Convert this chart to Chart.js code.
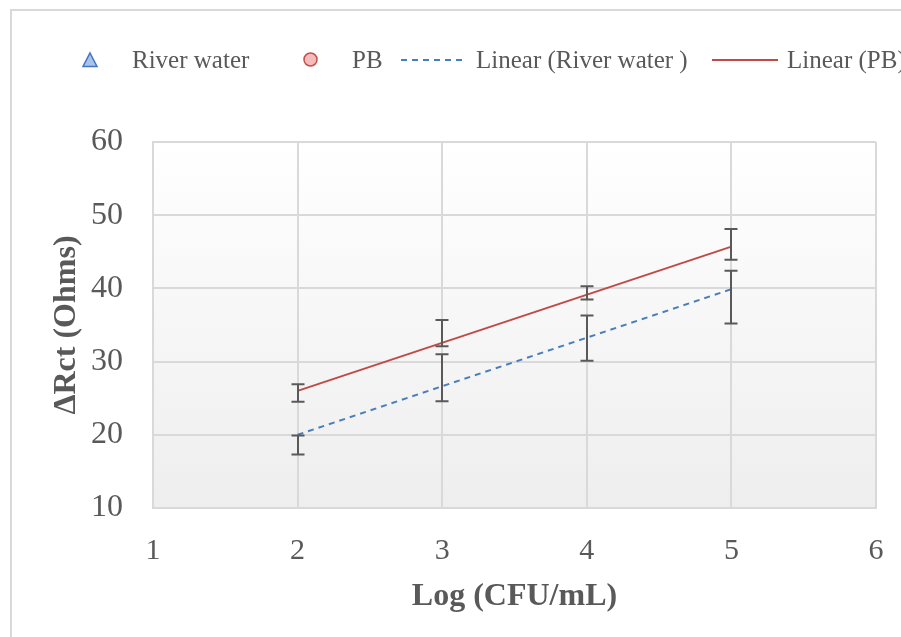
<!DOCTYPE html>
<html>
<head>
<meta charset="utf-8">
<title>ΔRct vs Log (CFU/mL)</title>
<script src="https://cdn.jsdelivr.net/npm/chart.js@4.4.0/dist/chart.umd.min.js"></script>
<style>
  html, body { margin: 0; padding: 0; background: #fff; }
  canvas { display: block; }
</style>
</head>
<body>
<canvas id="rctChart" width="901" height="637"></canvas>
<script>
// ---- data ----
const logCfu      = [2, 3, 4, 5];
const riverWater  = [18.6, 27.8, 33.2, 38.8];
const riverErr    = [1.3, 3.2, 3.1, 3.6];
const pbValues    = [25.7, 33.9, 39.4, 46.0];
const pbErr       = [1.2, 1.8, 0.9, 2.1];

// trendline end points (x = 2 and x = 5)
const trendX      = [2, 5];
const riverTrend  = [20.0, 39.9];
const pbTrend     = [26.0, 45.7];

const xTicks      = [1, 2, 3, 4, 5, 6];
const yTicks      = [10, 20, 30, 40, 50, 60];

const legendLabels = ["River water", "PB", "Linear (River water )", "Linear (PB)"];

const TEXT_GREY = "#595959";
const GRID_GREY = "#d9d9d9";
const SERIF     = "'Liberation Serif', 'DejaVu Serif', serif";

const toPoints = (xs, ys) => xs.map((x, i) => ({ x: x, y: ys[i] }));

// plot background: white fading to light grey, plus the outer frame
const backdrop = {
  id: "backdrop",
  beforeDraw(chart) {
    const { ctx, chartArea: a } = chart;
    ctx.save();
    ctx.fillStyle = "#fff";
    ctx.fillRect(0, 0, chart.width, chart.height);
    const g = ctx.createLinearGradient(0, a.top, 0, a.bottom);
    g.addColorStop(0, "#ffffff");
    g.addColorStop(1, "#eeeeee");
    ctx.fillStyle = g;
    ctx.fillRect(a.left, a.top, a.right - a.left, a.bottom - a.top);
    ctx.strokeStyle = GRID_GREY;
    ctx.lineWidth = 2;
    ctx.strokeRect(11, 10, chart.width + 20, chart.height + 20);
    ctx.restore();
  }
};

// vertical error bars with caps
const errorBars = {
  id: "errorBars",
  afterDatasetsDraw(chart) {
    const { ctx, scales: { x, y } } = chart;
    ctx.save();
    ctx.strokeStyle = TEXT_GREY;
    ctx.lineWidth = 2;
    chart.data.datasets.forEach(ds => {
      if (!ds.errors) return;
      ds.data.forEach((p, i) => {
        const px = Math.round(x.getPixelForValue(p.x));
        const top = y.getPixelForValue(p.y + ds.errors[i]);
        const bot = y.getPixelForValue(p.y - ds.errors[i]);
        ctx.beginPath();
        ctx.moveTo(px, top); ctx.lineTo(px, bot);
        ctx.moveTo(px - 6.5, top); ctx.lineTo(px + 6.5, top);
        ctx.moveTo(px - 6.5, bot); ctx.lineTo(px + 6.5, bot);
        ctx.stroke();
      });
    });
    ctx.restore();
  }
};

// single-row legend across the top (runs off the right edge)
const topLegend = {
  id: "topLegend",
  afterDraw(chart) {
    const { ctx } = chart;
    const ds = chart.data.datasets;
    const cy = 60;
    ctx.save();

    // triangle marker
    ctx.beginPath();
    ctx.moveTo(90, cy - 7);
    ctx.lineTo(97, cy + 6.5);
    ctx.lineTo(83, cy + 6.5);
    ctx.closePath();
    ctx.fillStyle = ds[0].backgroundColor;
    ctx.fill();
    ctx.lineWidth = 1.5;
    ctx.strokeStyle = ds[0].borderColor;
    ctx.stroke();

    // circle marker
    ctx.beginPath();
    ctx.arc(310.5, cy - 0.5, 6.5, 0, Math.PI * 2);
    ctx.fillStyle = ds[1].backgroundColor;
    ctx.fill();
    ctx.strokeStyle = ds[1].borderColor;
    ctx.stroke();

    // trendline samples
    ctx.lineWidth = 2;
    ctx.strokeStyle = ds[2].borderColor;
    ctx.setLineDash(ds[2].borderDash);
    ctx.beginPath(); ctx.moveTo(401, cy); ctx.lineTo(466, cy); ctx.stroke();
    ctx.setLineDash([]);
    ctx.strokeStyle = ds[3].borderColor;
    ctx.beginPath(); ctx.moveTo(712, cy); ctx.lineTo(778, cy); ctx.stroke();

    ctx.fillStyle = TEXT_GREY;
    ctx.font = "25px " + SERIF;
    ctx.textBaseline = "middle";
    [132, 352, 476, 787].forEach((tx, i) => ctx.fillText(legendLabels[i], tx, cy + 1));
    ctx.restore();
  }
};

new Chart(document.getElementById("rctChart"), {
  type: "scatter",
  data: {
    datasets: [
      {
        label: legendLabels[0],
        data: toPoints(logCfu, riverWater),
        errors: riverErr,
        pointStyle: "triangle",
        pointRadius: 0,
        backgroundColor: "#a9c4eb",
        borderColor: "#4472c4"
      },
      {
        label: legendLabels[1],
        data: toPoints(logCfu, pbValues),
        errors: pbErr,
        pointStyle: "circle",
        pointRadius: 0,
        backgroundColor: "#f7baba",
        borderColor: "#c0504d"
      },
      {
        label: legendLabels[2],
        type: "line",
        data: toPoints(trendX, riverTrend),
        borderColor: "#4a7ebb",
        borderWidth: 2,
        borderDash: [6, 5],
        pointRadius: 0,
        fill: false
      },
      {
        label: legendLabels[3],
        type: "line",
        data: toPoints(trendX, pbTrend),
        borderColor: "#be4b48",
        borderWidth: 2,
        pointRadius: 0,
        fill: false
      }
    ]
  },
  options: {
    responsive: false,
    animation: false,
    devicePixelRatio: 1,
    layout: { padding: { left: 30, top: 142, right: 25, bottom: 0 } },
    plugins: {
      legend: { display: false },
      tooltip: { enabled: false }
    },
    scales: {
      x: {
        type: "linear",
        min: xTicks[0],
        max: xTicks[xTicks.length - 1],
        afterBuildTicks: s => { s.ticks = xTicks.map(v => ({ value: v })); },
        afterFit: s => { s.height = 129; s.paddingLeft = 0; s.paddingRight = 0; },
        grid: { color: GRID_GREY, lineWidth: 2, drawTicks: false },
        border: { color: GRID_GREY, width: 2 },
        ticks: {
          padding: 25,
          color: TEXT_GREY,
          font: { family: SERIF, size: 30 },
          maxRotation: 0
        },
        title: {
          display: true,
          text: "Log (CFU/mL)",
          color: TEXT_GREY,
          font: { family: SERIF, size: 32, weight: "bold" },
          padding: { top: 0, bottom: 21 }
        }
      },
      y: {
        type: "linear",
        min: yTicks[0],
        max: yTicks[yTicks.length - 1],
        afterBuildTicks: s => { s.ticks = yTicks.map(v => ({ value: v })); },
        afterFit: s => { s.width = 123; },
        grid: { color: GRID_GREY, lineWidth: 2, drawTicks: false },
        border: { color: GRID_GREY, width: 2 },
        ticks: {
          padding: 30,
          color: TEXT_GREY,
          font: { family: SERIF, size: 32 }
        },
        title: {
          display: true,
          text: "ΔRct (Ohms)",
          color: TEXT_GREY,
          font: { family: SERIF, size: 32, weight: "bold" },
          padding: { top: 18, bottom: 0 }
        }
      }
    }
  },
  plugins: [backdrop, errorBars, topLegend]
});
</script>
</body>
</html>
